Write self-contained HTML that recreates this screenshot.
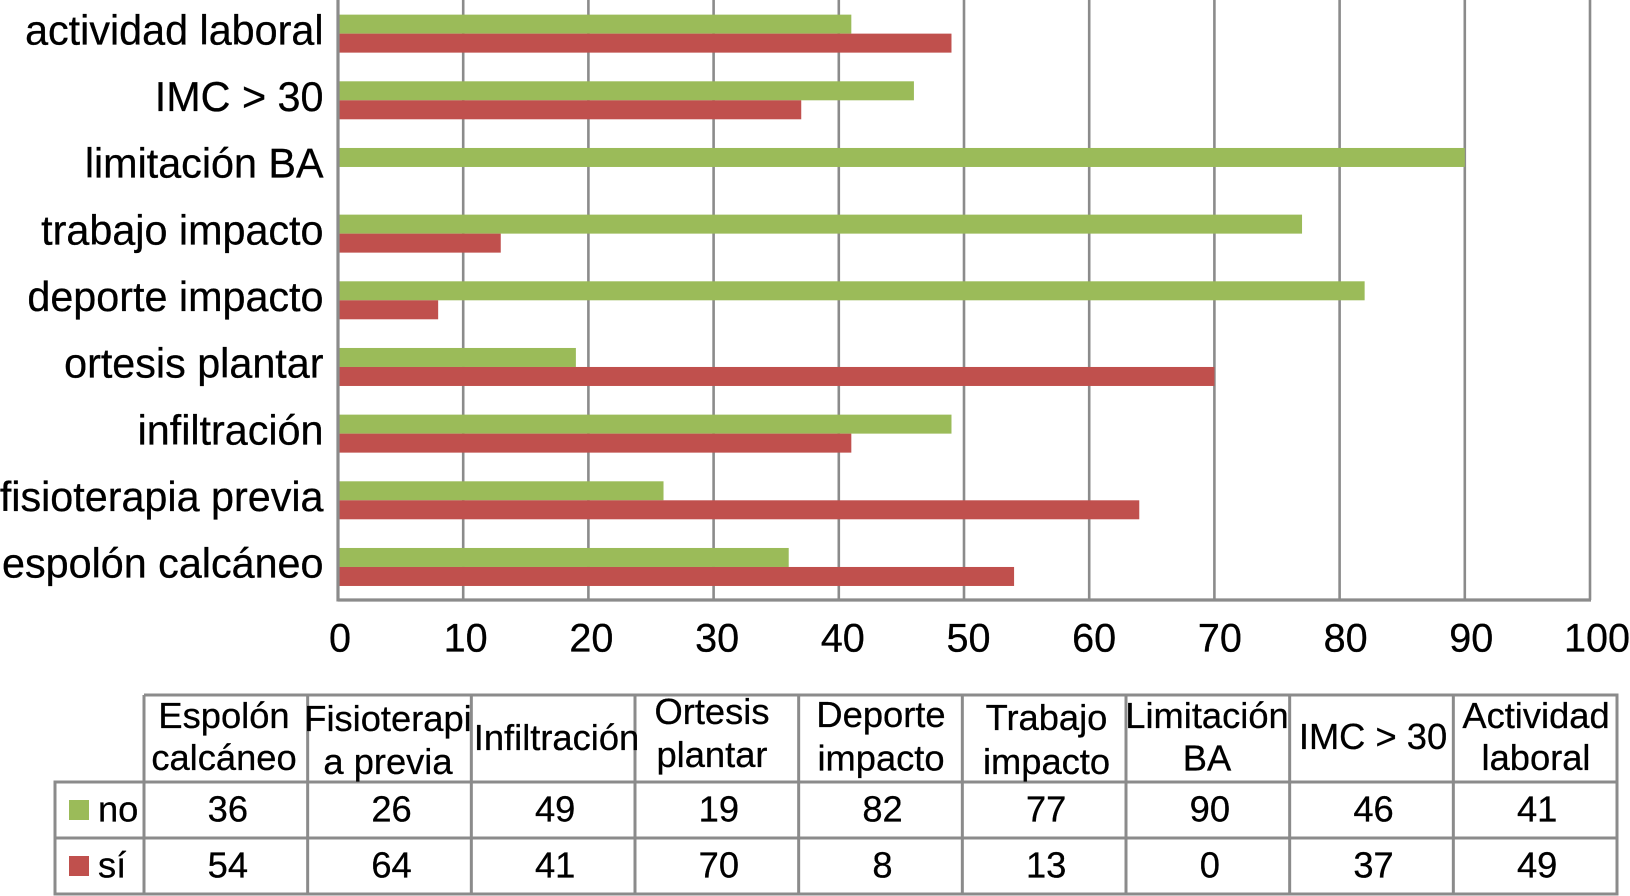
<!DOCTYPE html>
<html lang="es">
<head>
<meta charset="utf-8">
<title>Gráfico de barras</title>
<style>
html,body{margin:0;padding:0;background:#fff;width:1630px;height:896px;overflow:hidden}
svg{display:block}
text{font-family:"Liberation Sans",Arial,sans-serif;fill:#000;stroke:#000;stroke-width:.3px}
.cat{font-size:41.3px;text-anchor:end}
.tick{font-size:39.6px;text-anchor:middle}
.hd{font-size:36.3px;text-anchor:middle}
.val{font-size:36.3px;text-anchor:middle}
.grid{stroke:#8b8b8b;stroke-width:2.6}
.axis{stroke:#8b8b8b;stroke-width:3.2}
.tb{stroke:#8b8b8b;stroke-width:3;fill:none}
</style>
</head>
<body>
<svg id="chart" xmlns="http://www.w3.org/2000/svg" width="1630" height="896" viewBox="0 0 1630 896">
  <rect width="1630" height="896" fill="#fff"/>
  <g id="grid"></g>
  <g id="bars"></g>
  <g id="axes"></g>
  <g id="catLabels"></g>
  <g id="tickLabels"></g>

  <g id="table">
    <path class="tb" d="M144 695H1617V894H55V782H1617M55 838H1617M55 782V894"/>
    <g id="tableCols"></g>

    <text class="hd" x="224" y="728">Espolón</text>
    <text class="hd" x="224" y="770">calcáneo</text>
    <text class="hd" x="388" y="731">Fisioterapi</text>
    <text class="hd" x="388" y="774">a previa</text>
    <text class="hd" x="556.5" y="750">Infiltración</text>
    <text class="hd" x="712" y="724">Ortesis</text>
    <text class="hd" x="712" y="767">plantar</text>
    <text class="hd" x="881" y="727">Deporte</text>
    <text class="hd" x="881" y="770.5">impacto</text>
    <text class="hd" x="1046.5" y="730">Trabajo</text>
    <text class="hd" x="1046.5" y="774">impacto</text>
    <text class="hd" x="1207" y="728">Limitación</text>
    <text class="hd" x="1207" y="770.5">BA</text>
    <text class="hd" x="1373" y="749">IMC &gt; 30</text>
    <text class="hd" x="1536" y="728">Actividad</text>
    <text class="hd" x="1536" y="770">laboral</text>

    <rect x="69" y="800" width="20" height="20" fill="#9BBB59"/>
    <text x="98" y="821.5" font-size="36.3">no</text>
    <rect x="69" y="856" width="20" height="20" fill="#C0504D"/>
    <text x="98" y="877.5" font-size="36.3">sí</text>

    <g id="tableVals"></g>
  </g>
</svg>

<script>
var categories = ['espolón calcáneo','fisioterapia previa','infiltración','ortesis plantar','deporte impacto','trabajo impacto','limitación BA','IMC > 30','actividad laboral'];
var seriesNo = [36,26,49,19,82,77,90,46,41];
var seriesSi = [54,64,41,70,8,13,0,37,49];
var tickValues = [0,10,20,30,40,50,60,70,80,90,100];

var NS = 'http://www.w3.org/2000/svg';
var plotLeft = 338, plotRight = 1590, plotBottom = 600, plotTop = 0, barH = 19;
var tableLeft = 144, tableRight = 1617;

function xScale(v){ return plotLeft + (plotRight - plotLeft) * v / 100; }
function bandCenter(i){
  var band = (plotBottom - plotTop) / categories.length;
  return plotBottom - band * (i + 0.5);
}
function colCenter(i){
  return tableLeft + (tableRight - tableLeft) / categories.length * (i + 0.5) + 2;
}
function make(tag, parent){
  var el = document.createElementNS(NS, tag);
  parent.appendChild(el);
  return el;
}

var gridG = document.getElementById('grid');
var barsG = document.getElementById('bars');
var axesG = document.getElementById('axes');
var catG = document.getElementById('catLabels');
var tickG = document.getElementById('tickLabels');
var colsG = document.getElementById('tableCols');
var valsG = document.getElementById('tableVals');

tickValues.forEach(function(t){
  var line = make('line', gridG);
  
  
  line.setAttribute('class', 'grid');
  line.setAttribute('x1', xScale(t));
  line.setAttribute('x2', xScale(t));
  line.setAttribute('y1', plotTop);
  line.setAttribute('y2', plotBottom);

  var label = make('text', tickG);
  
  
  label.setAttribute('class', 'tick');
  label.setAttribute('x', xScale(t) + 2 + t * 0.05);
  label.setAttribute('y', 651.5);
  label.textContent = t;
});

var yAxis = make('line', axesG);


yAxis.setAttribute('class', 'axis');
yAxis.setAttribute('x1', plotLeft);
yAxis.setAttribute('x2', plotLeft);
yAxis.setAttribute('y1', plotTop);
yAxis.setAttribute('y2', plotBottom + 1.5);

var xAxis = make('line', axesG);


xAxis.setAttribute('class', 'axis');
xAxis.setAttribute('x1', plotLeft);
xAxis.setAttribute('x2', plotRight + 1);
xAxis.setAttribute('y1', plotBottom);
xAxis.setAttribute('y2', plotBottom);

categories.forEach(function(name, i){
  var c = bandCenter(i);

  var green = make('rect', barsG);
  
  
  green.setAttribute('fill', '#9BBB59');
  green.setAttribute('x', plotLeft + 1);
  green.setAttribute('y', c - barH + 0.3);
  green.setAttribute('width', Math.max(0, xScale(seriesNo[i]) - plotLeft - 1));
  green.setAttribute('height', barH);

  var red = make('rect', barsG);
  
  
  red.setAttribute('fill', '#C0504D');
  red.setAttribute('x', plotLeft + 1);
  red.setAttribute('y', c + 0.3);
  red.setAttribute('width', Math.max(0, xScale(seriesSi[i]) - plotLeft - 1));
  red.setAttribute('height', barH);

  var label = make('text', catG);
  
  
  label.setAttribute('class', 'cat');
  label.setAttribute('x', 323.5);
  label.setAttribute('y', c + 11);
  label.textContent = name;

  var vNo = make('text', valsG);
  
  
  vNo.setAttribute('class', 'val');
  vNo.setAttribute('x', colCenter(i));
  vNo.setAttribute('y', 821.7);
  vNo.textContent = seriesNo[i];

  var vSi = make('text', valsG);
  
  
  vSi.setAttribute('class', 'val');
  vSi.setAttribute('x', colCenter(i));
  vSi.setAttribute('y', 877.7);
  vSi.textContent = seriesSi[i];
});

for (var k = 0; k <= categories.length; k++) {
  var colX = tableLeft + (tableRight - tableLeft) / categories.length * k;
  var col = make('line', colsG);
  
  
  col.setAttribute('class', 'tb');
  col.setAttribute('x1', colX);
  col.setAttribute('x2', colX);
  col.setAttribute('y1', 695);
  col.setAttribute('y2', 894);
}
</script>
</body>
</html>
